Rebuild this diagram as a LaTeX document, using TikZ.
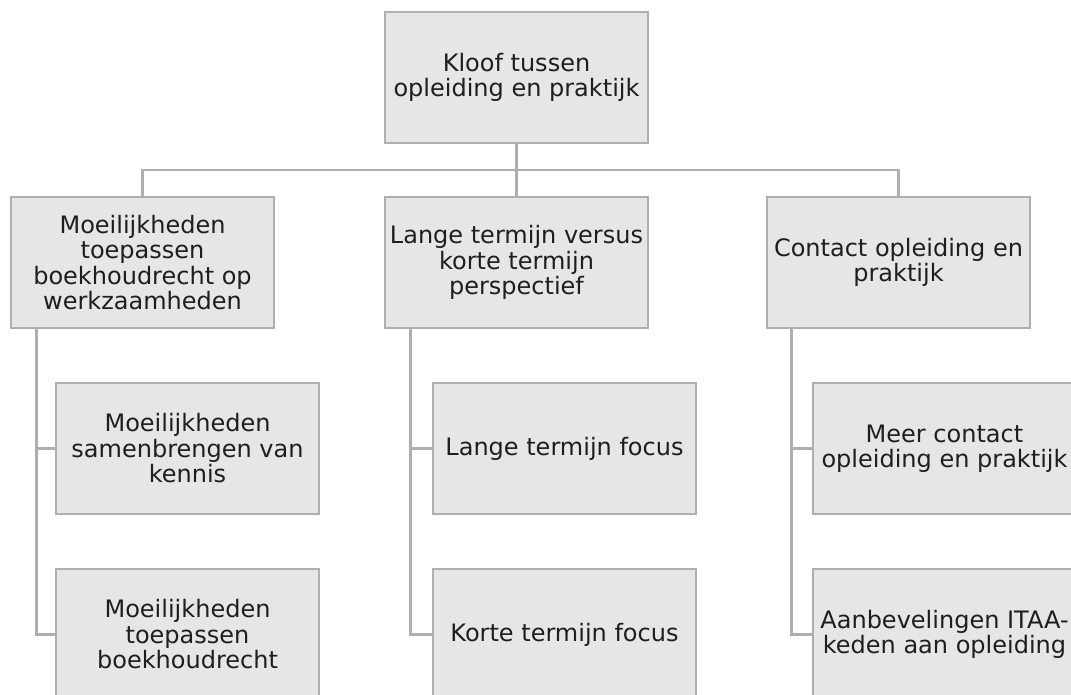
\documentclass[tikz,border=0pt]{standalone}
\usepackage{fontspec}
\setmainfont{DejaVu Sans}
\usepackage{xcolor}
\usetikzlibrary{positioning, calc}

\definecolor{boxfill}{HTML}{E6E6E6}
\definecolor{boxline}{HTML}{B0AEAE}
\definecolor{boxtext}{HTML}{1E1E1E}

\begin{document}
\begin{tikzpicture}[
    x=0.5pt, y=-0.5pt,
    node distance = 25.7pt and 54.2pt,
    topic/.style = {draw=boxline, fill=boxfill, line width=1.3pt,
                    minimum width=131.5pt, minimum height=65.5pt,
                    inner sep=2pt, align=center, text=boxtext,
                    font=\fontsize{12}{12.75}\selectfont},
    link/.style = {draw=boxline, line width=1.3pt},
                            ]
    \useasboundingbox (0,0) rectangle (1071,695);
    \clip (0,0) rectangle (1071,695);
    \node (kloof) [topic] at (516.5,77.5) {Kloof tussen\\opleiding en praktijk};
    \node (lang)  [topic, below=of kloof]  {Lange termijn versus\\korte termijn\\perspectief};
    \node (moei)  [topic, left=of lang]    {Moeilijkheden\\toepassen\\boekhoudrecht op\\werkzaamheden};
    \node (cont)  [topic, right=58.2pt of lang] {Contact opleiding en\\praktijk};
    % kinderen
    \node (moei1) [topic, below right=26.2pt and 22.5pt of moei.south west] {Moeilijkheden\\samenbrengen van\\kennis};
    \node (moei2) [topic, below=26.2pt of moei1] {Moeilijkheden\\toepassen\\boekhoudrecht};
    \node (lang1) [topic, below right=26.2pt and 24pt of lang.south west] {Lange termijn focus};
    \node (lang2) [topic, below=26.2pt of lang1] {Korte termijn focus};
    \node (cont1) [topic, below right=26.2pt and 23pt of cont.south west] {Meer contact\\opleiding en praktijk};
    \node (cont2) [topic, below=26.2pt of cont1] {Aanbevelingen ITAA-\\keden aan opleiding};
    % verbindingen
    \path[link] (kloof) -- (lang)
        (moei.north) |- ($(kloof.south)!0.5!(lang.north)$) -| (cont.north);
    \path[link] ($(moei.south west)+(13.5pt,0)$) |- (moei1.west)
        ($(moei.south west)+(13.5pt,0)$) |- (moei2.west);
    \path[link] ($(lang.south west)+(13.5pt,0)$) |- (lang1.west)
        ($(lang.south west)+(13.5pt,0)$) |- (lang2.west);
    \path[link] ($(cont.south west)+(13pt,0)$) |- (cont1.west)
        ($(cont.south west)+(13pt,0)$) |- (cont2.west);
\end{tikzpicture}
\end{document}
